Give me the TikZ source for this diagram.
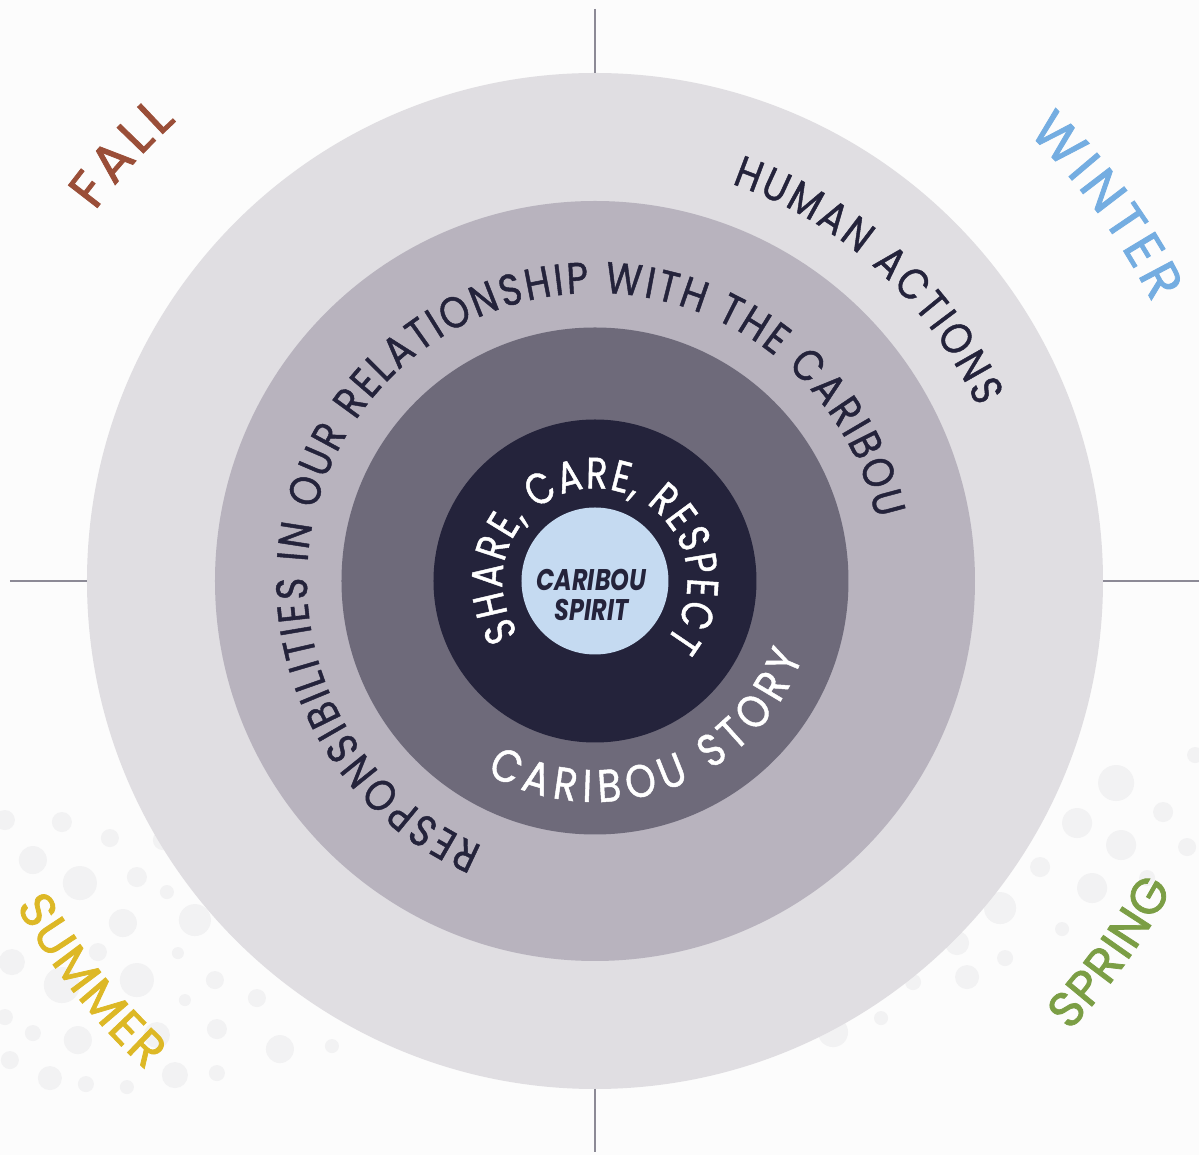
\documentclass[tikz,border=0pt]{standalone}
\usepackage{fontspec}
\setmainfont{Poppins}
\newfontfamily\ringfont[FakeStretch=0.85,FakeBold=1]{Poppins}
\newfontfamily\sharefont[FakeStretch=0.8,FakeBold=1]{Poppins}
\newfontfamily\seasonfont[FakeBold=1.5]{Poppins}
\newfontfamily\spiritfont[FakeStretch=0.8]{Poppins}
\usetikzlibrary{decorations.text}
\definecolor{bgc}{HTML}{FCFCFC}
\definecolor{ringA}{HTML}{E0DEE2}
\definecolor{ringB}{HTML}{B8B3BE}
\definecolor{ringC}{HTML}{6E6A7A}
\definecolor{ringD}{HTML}{24233B}
\definecolor{corec}{HTML}{C5DAF1}
\definecolor{ink}{HTML}{24233B}
\definecolor{dotc}{HTML}{F2F2F3}
\definecolor{crossc}{HTML}{8C8A96}
\definecolor{fallc}{HTML}{9A4E38}
\definecolor{winterc}{HTML}{74ADE1}
\definecolor{summerc}{HTML}{DDB826}
\definecolor{springc}{HTML}{7B9E45}
\begin{document}
\begin{tikzpicture}[
  disc/.style={circle, inner sep=0pt, outer sep=0pt, draw=none},
  crossline/.style={draw=crossc, line width=1.2pt},
  arctext/.style={decorate, decoration={text along path, text align={fit to path}, #1}},
]
\fill[bgc] (-11.90,-11.48) rectangle (12.08,11.62);
\useasboundingbox (-11.90,-11.48) rectangle (12.08,11.62);
% background dots
\foreach \x/\y/\r in {5/820/10, 62/822/10, 110/838/9, 33/860/14, 80/883/17, 137/877/10,
  167/892/7, 163/840/10, 123/923/14, 195/920/16, 12/962/13, 98/952/9, 178/953/6,
  62/985/18, 137/980/17, 215/980/9, 185/1000/6, 257/998/9, 5/1017/8, 33/1033/8,
  78/1040/14, 157/1035/13, 217/1029/10, 280/1049/14, 332/1046/7, 10/1060/9,
  50/1078/12, 86/1084/8, 127/1087/7, 175/1075/13, 217/1073/8,
  1195/755/8, 1116/783/18, 1163/812/10, 1077/823/15, 1121/845/15, 1187/847/9,
  1040/867/10, 1092/888/15, 1147/878/8, 1000/908/16, 1062/929/7, 957/943/12,
  1005/958/8, 967/977/12, 913/982/8, 881/1018/7, 833/1032/15}
  \fill[dotc] ({(\x-595)*0.02},{(581-\y)*0.02}) circle[radius={\r*0.02}];
% rings
\node[disc, fill=ringA, minimum size=20.32cm] (outer) at (0,0) {};
\node[disc, fill=ringB, minimum size=15.20cm] (ring2) at (0,0) {};
\node[disc, fill=ringC, minimum size=10.14cm] (ring3) at (0,0) {};
\node[disc, fill=ringD, minimum size=6.46cm] (ring4) at (0,0) {};
\node[disc, fill=corec, minimum size=2.94cm] (core) at (0,0) {};
% cross lines
\coordinate (ctop) at (0,11.44);
\coordinate (cbot) at (0,-11.42);
\coordinate (cleft) at (-11.70,0);
\coordinate (cright) at (12.08,0);
\draw[crossline] (ctop) -- (outer.north);
\draw[crossline] (outer.south) -- (cbot);
\draw[crossline] (cleft) -- (outer.west);
\draw[crossline] (outer.east) -- (cright);
% ring texts
\path[arctext={text={|\fontsize{25}{29}\ringfont|HUMAN ACTIONS}, text color=ink}]
  (71:8.40) arc[start angle=71, end angle=24.5, radius=8.40];
\path[arctext={text={|\fontsize{25}{29}\ringfont|RESPONSIBILITIES IN OUR RELATIONSHIP WITH THE CARIBOU}, text color=ink}]
  (247:5.76) arc[start angle=247, end angle=12.5, radius=5.76];
\path[arctext={text={|\fontsize{26}{30}\ringfont|CARIBOU STORY}, text color=white}]
  (240.6:4.42) arc[start angle=240.6, end angle=340, radius=4.42];
\path[arctext={text={|\fontsize{25}{29}\sharefont|SHARE, CARE, RESPECT}, text color=white}]
  (214.5:1.85) arc[start angle=214.5, end angle=-40, radius=1.85];
% centre
\node[text=ink, align=center, font={\spiritfont\bfseries\itshape\fontsize{17}{17}\selectfont}] (spirit) at (-0.07,-0.28) {CARIBOU\\SPIRIT};
% seasons
\path[arctext={text={|\fontsize{30}{34}\seasonfont|FALL}, text color=fallc}]
  (143.5:12.44) arc[start angle=143.5, end angle=132.3, radius=12.44];
\path[arctext={text={|\fontsize{30}{34}\seasonfont|WINTER}, text color=winterc}]
  (46:12.46) arc[start angle=46, end angle=26.5, radius=12.46];
\path[arctext={text={|\fontsize{28}{32}\seasonfont|SUMMER}, text color=summerc}]
  (209.3:13.28) arc[start angle=209.3, end angle=227.5, radius=13.28];
\path[arctext={text={|\fontsize{28}{32}\seasonfont|SPRING}, text color=springc}]
  (-43.5:13.08) arc[start angle=-43.5, end angle=-28, radius=13.08];
\end{tikzpicture}
\end{document}
